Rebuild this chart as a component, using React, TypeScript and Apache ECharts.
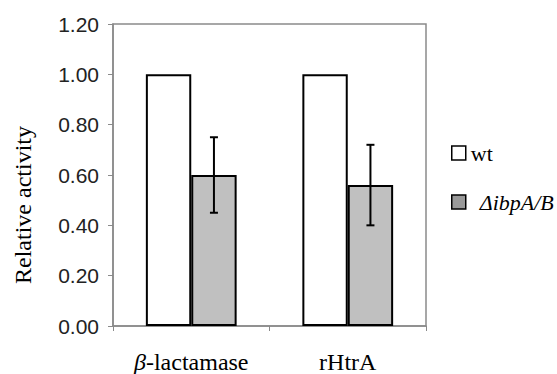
import React, { useEffect, useRef } from "react";
import * as echarts from "echarts";

const categories = ["β-lactamase", "rHtrA"];
const wtValues = [1.0, 1.0];
const mutValues = [0.6, 0.56];
const mutErrLow = [0.45, 0.4];
const mutErrHigh = [0.75, 0.72];
const seriesNames = ["wt", "ΔibpA/B"];

const GAP = 0.42;
const SERIF = "Liberation Serif";
const SANS = "Liberation Sans";

export default function App() {
  const ref = useRef<HTMLDivElement>(null);
  useEffect(() => {
    const chart = echarts.init(ref.current!, null, { renderer: "svg" });
    const gray = "#8a8a8a";
    chart.setOption({
      animation: false,
      backgroundColor: "#fff",
      grid: {
        left: 113,
        right: 131,
        top: 24,
        bottom: 48,
        show: true,
        borderColor: gray,
        borderWidth: 1.5,
      },
      legend: {
        orient: "vertical",
        left: 446,
        top: 137,
        itemWidth: 14,
        itemHeight: 14,
        itemGap: 27,
        itemTextGap: 14,
        icon: "rect",
        data: [
          {
            name: seriesNames[0],
            itemStyle: { color: "#fff", borderColor: "#000", borderWidth: 1.5 },
            textStyle: { fontFamily: SERIF, fontSize: 22, color: "#000" },
          },
          {
            name: seriesNames[1],
            itemStyle: { color: "#999", borderColor: "#000", borderWidth: 1.5 },
            textStyle: {
              fontFamily: SERIF,
              fontSize: 22,
              fontStyle: "italic",
              color: "#000",
              padding: [0, 0, 0, 9],
            },
          },
        ],
      },
      xAxis: {
        type: "category",
        data: categories,
        axisLine: { lineStyle: { color: gray, width: 1.5 } },
        axisTick: { show: true, length: 5, lineStyle: { color: gray } },
        axisLabel: {
          interval: 0,
          margin: 24,
          fontFamily: SERIF,
          fontSize: 24,
          color: "#000",
          formatter: (v: string) =>
            v.startsWith("β") ? "{b|β}" + v.slice(1) : v,
          rich: {
            b: {
              fontFamily: SERIF,
              fontSize: 24,
              fontStyle: "italic",
              color: "#000",
            },
          },
        },
      },
      yAxis: {
        type: "value",
        min: 0,
        max: 1.2,
        interval: 0.2,
        name: "Relative activity",
        nameLocation: "middle",
        nameGap: 78,
        nameTextStyle: {
          fontFamily: SERIF,
          fontSize: 24,
          color: "#000",
          padding: [0, 60, 0, 0],
        },
        splitLine: { show: false },
        axisLine: { show: true, lineStyle: { color: gray, width: 1.5 } },
        axisTick: { show: true, length: 5, lineStyle: { color: gray } },
        axisLabel: {
          margin: 14,
          fontFamily: SANS,
          fontSize: 21,
          color: "#222",
          formatter: (v: number) => v.toFixed(2),
        },
      },
      series: [
        {
          name: seriesNames[0],
          type: "bar",
          data: wtValues,
          barGap: "0%",
          barCategoryGap: GAP * 100 + "%",
          itemStyle: { color: "#fff", borderColor: "#000", borderWidth: 2 },
        },
        {
          name: seriesNames[1],
          type: "bar",
          data: mutValues,
          itemStyle: { color: "#c0c0c0", borderColor: "#000", borderWidth: 2 },
        },
        {
          type: "custom",
          name: "err",
          data: categories.map((_, i) => [i, mutErrLow[i], mutErrHigh[i]]),
          z: 10,
          renderItem: (params: any, api: any) => {
            const i = api.value(0);
            const lo = api.coord([i, api.value(1)]);
            const hi = api.coord([i, api.value(2)]);
            const catW = api.size([1, 0])[0];
            const barW = (catW * (1 - GAP)) / 2;
            const x = lo[0] + barW / 2;
            const cap = 4;
            const style = { stroke: "#000", lineWidth: 2 };
            return {
              type: "group",
              children: [
                { type: "line", shape: { x1: x, y1: lo[1], x2: x, y2: hi[1] }, style },
                { type: "line", shape: { x1: x - cap, y1: lo[1], x2: x + cap, y2: lo[1] }, style },
                { type: "line", shape: { x1: x - cap, y1: hi[1], x2: x + cap, y2: hi[1] }, style },
              ],
            };
          },
        },
      ],
    });
    return () => chart.dispose();
  }, []);
  return <div ref={ref} style={{ width: 557, height: 374, position: "absolute", left: 0, top: 0 }} />;
}
